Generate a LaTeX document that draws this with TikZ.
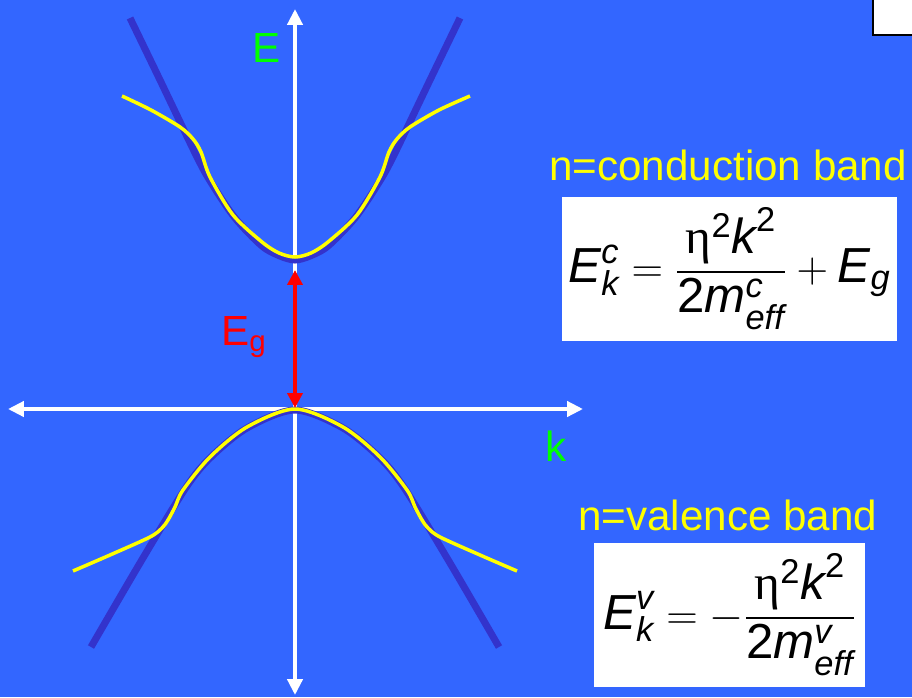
\documentclass[tikz,border=0pt]{standalone}
\usepackage{amsmath}
\usepackage{fontspec}
\setmainfont{Liberation Sans}
\newfontfamily\etafont{Liberation Serif}
\usetikzlibrary{arrows.meta}
\definecolor{slideblue}{RGB}{51,102,255}
\definecolor{banddark}{RGB}{51,51,204}
\definecolor{bandyellow}{RGB}{255,255,0}
\definecolor{labgreen}{RGB}{0,255,0}
\definecolor{gapred}{RGB}{255,0,0}

\begin{document}
\begin{tikzpicture}[x=0.02cm, y=-0.02cm]
  \tikzset{axisline/.style={white, line width=2.2pt,
             {Triangle[length=9pt,width=8.5pt]}-{Triangle[length=9pt,width=8.5pt]}},
           darkband/.style={banddark, line width=4pt},
           yellowband/.style={bandyellow, line width=2pt},
           biglabel/.style={inner sep=0pt, anchor=base west, font=\fontsize{24}{28}\selectfont},
           formbox/.style={fill=white, inner sep=0pt, minimum height=2.88cm,
             font=\fontsize{28}{34}\selectfont}}

  % background
  \useasboundingbox (0,0) rectangle (912,697);
  \fill[slideblue] (0,0) rectangle (912,697);
  \fill[white] (873,0) rectangle (912,35);
  \draw[black, line width=1.2pt] (873,0) |- (912,35);

  % axis
  \coordinate (kleft) at (8,409);
  \coordinate (kright) at (583,409);
  \coordinate (Etop) at (295,9);
  \coordinate (Ebot) at (295,695);
  \draw[axisline] (kleft) -- (kright);
  \draw[axisline] (Ebot) -- (Etop);
  \node[biglabel, text=labgreen] (Elabel) at (252,62) {E};
  \node[biglabel, text=labgreen] (klabel) at (545,461) {k};

  % free electron parabolas
  \draw[darkband] plot[smooth] coordinates {(130,18) (160,80) (197,157) (212,184)
    (235,218) (262,246) (280,256) (295,260) (310,256) (328,246) (355,218) (378,184)
    (393,157) (430,80) (460,18)};
  \draw[darkband] plot[smooth] coordinates {(91,647) (140,563) (185,489) (210,458)
    (247,428) (295,410) (343,428) (380,458) (405,489) (450,563) (499,647)};

  % bands with gaps at the zone edge
  \draw[yellowband] plot[smooth] coordinates {(122,96) (151,110) (180,127) (193,139)
    (201,152) (210,177) (233,215) (262,242) (279,253) (295,257) (311,253) (328,242)
    (357,215) (380,177) (389,152) (397,139) (410,127) (439,110) (470,96)};
  \draw[yellowband] plot[smooth] coordinates {(73,571) (110,555) (150,537) (162,528)
    (168,520) (175,507) (183,490) (210,457) (247,427) (295,409) (343,427) (380,457)
    (407,490) (415,507) (422,520) (428,528) (440,537) (480,555) (517,571)};

  % energy gap
  \coordinate (gaptop) at (295,270);
  \coordinate (gapbot) at (295,408);
  \draw[gapred, line width=2.2pt, {Triangle[length=8.5pt,width=8.5pt]}-{Triangle[length=8.5pt,width=8.5pt]}]
    (gapbot) -- (gaptop);
  \node[biglabel, text=gapred] (Eglabel) at (221,345) {E\textsubscript{g}};

  % band formulas
  \node[biglabel, text=bandyellow] (cbtitle) at (549,180) {n=conduction band};
  \node[formbox, minimum width=6.7cm] (cbform) at (729.5,269)
    {$\textit{E}^{\textit{c}}_{\textit{k}} = \dfrac{\text{\etafont η}^{\text{2}}\textit{k}^{\text{2}}}{\text{2}\textit{m}^{\textit{c}}_{\textit{eff}}} + \textit{E}_{\textit{g}}$};
  \node[biglabel, text=bandyellow] (vbtitle) at (578,530) {n=valence band};
  \node[formbox, minimum width=5.42cm] (vbform) at (729.5,615)
    {$\textit{E}^{\textit{v}}_{\textit{k}} = -\dfrac{\text{\etafont η}^{\text{2}}\textit{k}^{\text{2}}}{\text{2}\textit{m}^{\textit{v}}_{\textit{eff}}}$};
\end{tikzpicture}
\end{document}
